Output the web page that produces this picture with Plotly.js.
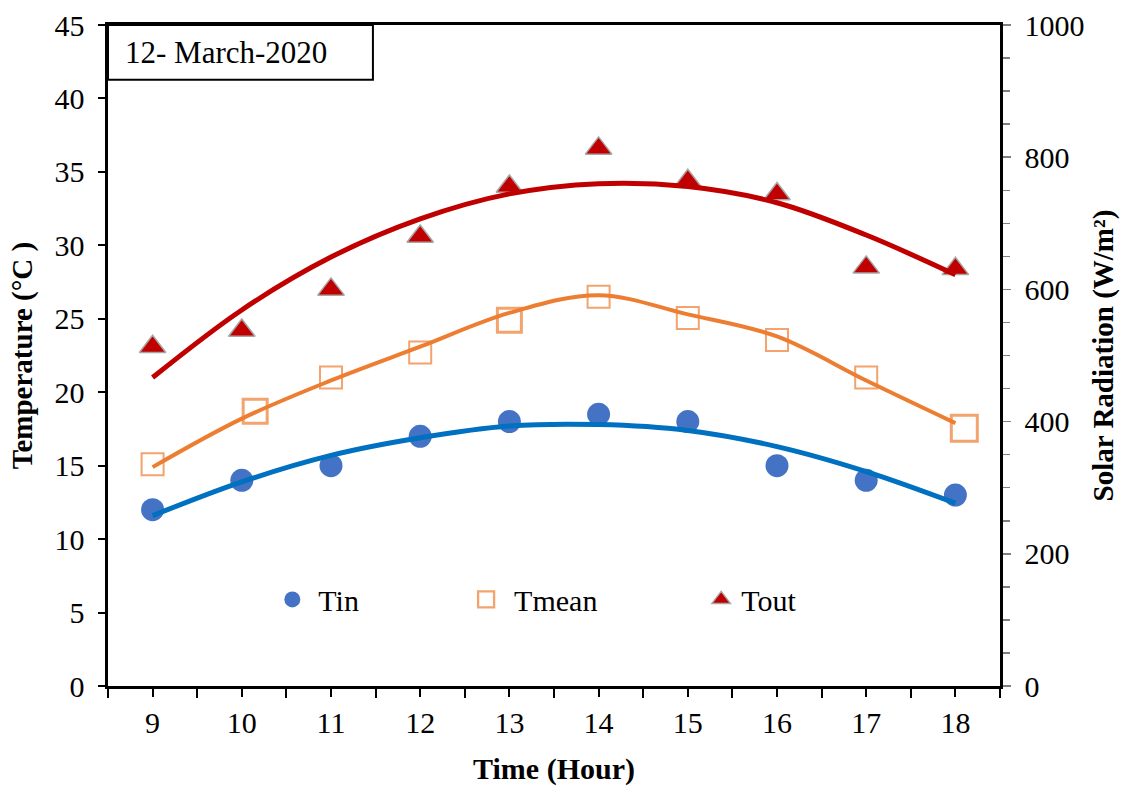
<!DOCTYPE html>
<html>
<head>
<meta charset="utf-8">
<script src="https://cdn.plot.ly/plotly-3.0.1.min.js"></script>
<style>html,body{margin:0;padding:0;background:#fff;}#chart{width:1128px;height:786px;}</style>
</head>
<body>
<div id="chart"></div>
<script>
// Measured points
const hours = [9, 10, 11, 12, 13, 14, 15, 16, 17, 18];
const tinValues = [12, 14, 15, 17, 18, 18.5, 18, 15, 14, 13];
const tmeanHours = [9, 10.15, 11, 12, 13, 14, 15, 16, 17, 18.1];
const tmeanValues = [15.1, 18.7, 21, 22.7, 24.9, 26.5, 25.05, 23.55, 21, 17.55];
const toutValues = [23.1, 24.2, 27, 30.6, 34, 36.6, 34.4, 33.5, 28.5, 28.4];

// Trend / smoothed curves
const tinTrend = [11.6, 13.9, 15.7, 16.9, 17.7, 17.8, 17.4, 16.3, 14.6, 12.45];
const tmeanLine = [14.9, 18.2, 20.8, 23.1, 25.4, 26.6, 25.3, 23.8, 20.8, 17.9];
const toutTrend = [21.0, 25.6, 29.2, 31.8, 33.5, 34.2, 34.0, 32.9, 30.7, 28.0];

const xTickLabels = ['9','10','11','12','13','14','15','16','17','18'];
const dateLabel = '12- March-2020';

const serif = 'Liberation Serif, Times New Roman, serif';
const FS = 30;

const traces = [
  {x: hours, y: tinValues, name: 'Tin', mode: 'markers', type: 'scatter',
   marker: {symbol: 'circle', size: 23, color: '#4472C4'}, legend: 'legend', hoverinfo: 'skip'},
  {x: tmeanHours, y: tmeanValues, name: 'Tmean', mode: 'markers', type: 'scatter',
   marker: {symbol: 'square', size: [22, 24, 22, 22, 24, 22, 22, 22, 22, 26], color: '#ffffff',
            line: {color: '#ED7D31', width: [2, 3, 2, 2, 3, 2, 2, 2, 2, 3]}}, legend: 'legend2', hoverinfo: 'skip'},
  {x: hours, y: toutValues, name: 'Tout', mode: 'markers', type: 'scatter',
   marker: {symbol: 'triangle-up', size: 23, color: '#C00000', line: {color: '#A6A6A6', width: 1.5}},
   legend: 'legend3', hoverinfo: 'skip'},
  {x: hours, y: tinTrend, mode: 'lines', type: 'scatter', showlegend: false,
   line: {color: '#0070C0', width: 5, shape: 'spline', smoothing: 1}, hoverinfo: 'skip'},
  {x: hours, y: tmeanLine, mode: 'lines', type: 'scatter', showlegend: false,
   line: {color: '#ED7D31', width: 4, shape: 'spline', smoothing: 1}, hoverinfo: 'skip'},
  {x: hours, y: toutTrend, mode: 'lines', type: 'scatter', showlegend: false,
   line: {color: '#C00000', width: 5, shape: 'spline', smoothing: 1}, hoverinfo: 'skip'},
  {x: [], y: [], yaxis: 'y2', type: 'scatter', mode: 'markers', showlegend: false, hoverinfo: 'skip'}
];

const legendCommon = {orientation: 'h', yanchor: 'middle', xanchor: 'left', y: 0.131,
  bgcolor: 'rgba(0,0,0,0)', borderwidth: 0, font: {family: serif, size: FS, color: '#000'}};

const layout = {
  width: 1128, height: 786,
  margin: {l: 108, r: 128, t: 25, b: 100, pad: 0},
  paper_bgcolor: '#fff', plot_bgcolor: '#fff',
  font: {family: serif, size: FS, color: '#000'},
  xaxis: {
    range: [8.5, 18.5], tickvals: hours, ticktext: xTickLabels,
    ticks: 'outside', ticklen: 8, tickwidth: 2, tickcolor: '#000',
    minor: {tick0: 8.5, dtick: 1, ticks: 'outside', ticklen: 9, tickwidth: 2, tickcolor: '#000'},
    showline: true, linecolor: '#000', linewidth: 3, mirror: true,
    showgrid: false, zeroline: false,
    tickfont: {family: serif, size: FS},
    title: {text: '<b>Time (Hour)</b>', font: {family: serif, size: FS}, standoff: 22}
  },
  yaxis: {
    range: [0, 45], dtick: 5, tick0: 0,
    ticks: 'outside', ticklen: 7, tickwidth: 2, tickcolor: '#000',
    ticksuffix: '\u00a0',
    showline: true, linecolor: '#000', linewidth: 3,
    showgrid: false, zeroline: false,
    tickfont: {family: serif, size: FS},
    title: {text: '<b>Temperature (°C )</b>', font: {family: serif, size: 29}, standoff: 14}
  },
  yaxis2: {
    overlaying: 'y', side: 'right', range: [0, 1000], dtick: 200, tick0: 0,
    ticks: 'outside', ticklen: 8, tickwidth: 1.5, tickcolor: '#808080',
    minor: {dtick: 50, ticks: 'outside', ticklen: 7, tickwidth: 1.5, tickcolor: '#808080'},
    tickprefix: '\u00a0',
    showline: true, linecolor: '#000', linewidth: 3,
    showgrid: false, zeroline: false,
    tickfont: {family: serif, size: FS},
    title: {text: '<b>Solar Radiation (W/m²)</b>', font: {family: serif, size: 29}, standoff: 10}
  },
  legend: Object.assign({x: 0.1775, itemwidth: 42}, legendCommon),
  legend2: Object.assign({x: 0.3925, itemwidth: 46}, legendCommon),
  legend3: Object.assign({x: 0.665, itemwidth: 30}, legendCommon),
  shapes: [
    {type: 'rect', xref: 'paper', yref: 'paper', x0: 0, x1: 0.297, y0: 0.917, y1: 1,
     line: {color: '#000', width: 2}, fillcolor: '#fff', layer: 'above'}
  ],
  annotations: [
    {xref: 'paper', yref: 'paper', x: 0.017, y: 0.959, xanchor: 'left', yanchor: 'middle',
     text: dateLabel, showarrow: false, font: {family: serif, size: 31, color: '#000'}}
  ]
};

Plotly.newPlot('chart', traces, layout, {displayModeBar: false, staticPlot: true});
</script>
</body>
</html>
